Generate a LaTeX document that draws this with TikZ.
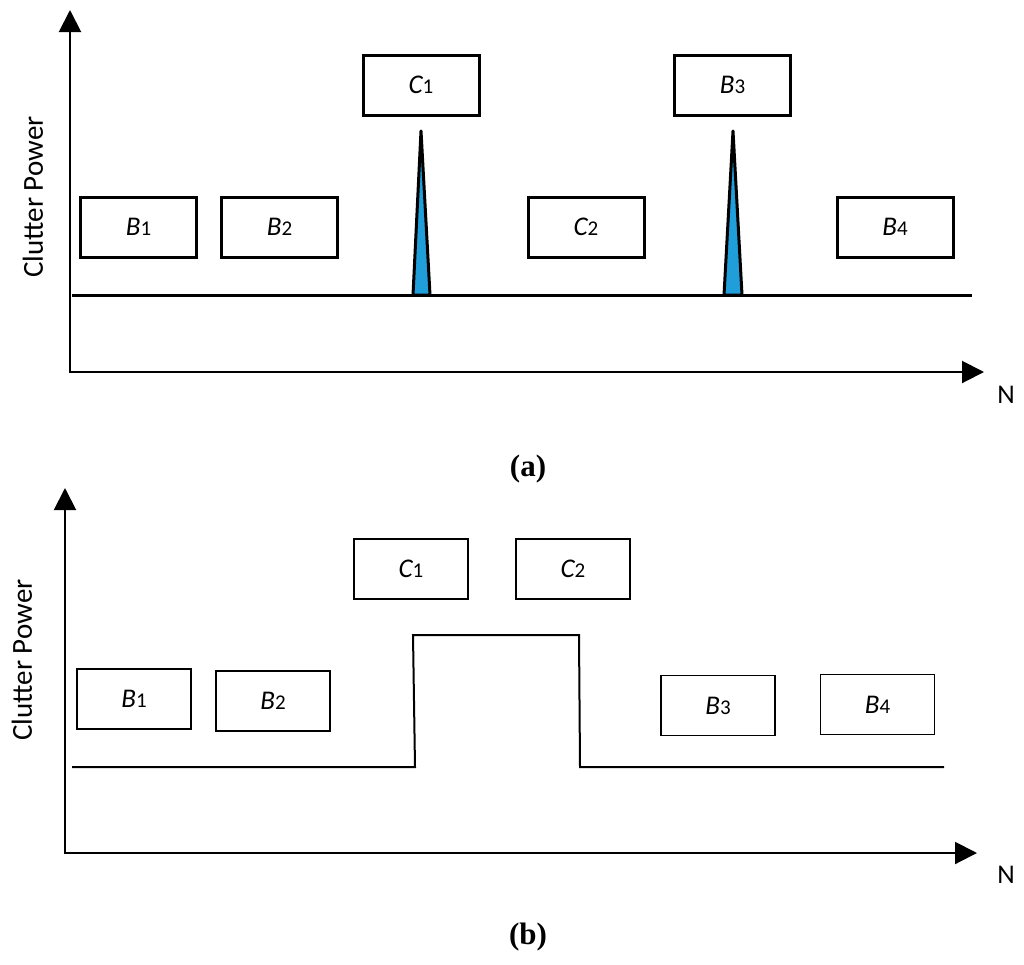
\documentclass[tikz,border=0pt]{standalone}
\usepackage{fontspec}
\setmainfont{Carlito}
\newfontfamily\capfont{Liberation Serif}
\usetikzlibrary{arrows.meta}
\definecolor{spike}{RGB}{31,158,217}
\tikzset{
  axis/.style={line width=2pt, line join=miter, {Triangle[length=22pt,width=22pt]}-{Triangle[length=22pt,width=22pt]}},
  boxa/.style={draw, line width=3pt, minimum width=116pt, minimum height=60pt, inner sep=0pt},
  boxb/.style={draw, line width=1.8pt, minimum width=114pt, minimum height=60pt, inner sep=0pt},
  axlabel/.style={font=\fontsize{29}{29}\selectfont},
  nlabel/.style={font=\fontsize{27}{27}\selectfont},
  caption/.style={font=\capfont\bfseries\fontsize{31}{31}\selectfont},
}
\newcommand{\lbl}[2]{{\fontsize{27}{27}\selectfont\itshape #1}{\fontsize{21}{21}\selectfont #2}}
\begin{document}
\begin{tikzpicture}[x=1pt,y=-1pt]
\useasboundingbox (0,0) rectangle (1024,964);
% ---------- (a) ----------
\coordinate (ya) at (70,10);
\coordinate (oa) at (70,372);
\coordinate (xa) at (984,372);
\draw[axis] (ya) -- (oa) -- (xa);
\node[axlabel, rotate=90] (cpa) at (33,197) {Clutter Power};
\node[nlabel] (na) at (1006,395) {N};
\coordinate (bla) at (72,295);
\coordinate (bra) at (972,295);
\draw[line width=3pt] (bla) -- (bra);
\coordinate (s1l) at (413,295);
\coordinate (s1t) at (421,131);
\coordinate (s1r) at (430,295);
\coordinate (s2l) at (724,295);
\coordinate (s2t) at (733,131);
\coordinate (s2r) at (742,295);
\filldraw[fill=spike, line width=3pt, line join=round] (s1l) -- (s1t) -- (s1r) -- cycle;
\filldraw[fill=spike, line width=3pt, line join=round] (s2l) -- (s2t) -- (s2r) -- cycle;
\node[boxa] (aB1) at (138.5,227) {\lbl{B}{1}};
\node[boxa] (aB2) at (279.5,227) {\lbl{B}{2}};
\node[boxa] (aC1) at (421,85) {\lbl{C}{1}};
\node[boxa] (aC2) at (586,227) {\lbl{C}{2}};
\node[boxa] (aB3) at (732.5,85) {\lbl{B}{3}};
\node[boxa] (aB4) at (895,227) {\lbl{B}{4}};
\node[caption] (capa) at (528,469) {(a)};
% ---------- (b) ----------
\coordinate (yb) at (65,488);
\coordinate (ob) at (65,853);
\coordinate (xb) at (977,853);
\draw[axis] (yb) -- (ob) -- (xb);
\node[axlabel, rotate=90] (cpb) at (22,660) {Clutter Power};
\node[nlabel] (nb) at (1006,875) {N};
\coordinate (p1) at (72,767);
\coordinate (p2) at (415,767);
\coordinate (p3) at (413,635);
\coordinate (p4) at (579,635);
\coordinate (p5) at (580,767);
\coordinate (p6) at (944,767);
\draw[line width=2pt] (p1) -- (p2) -- (p3) -- (p4) -- (p5) -- (p6);
\node[boxb] (bB1) at (134,699) {\lbl{B}{1}};
\node[boxb] (bB2) at (273,701) {\lbl{B}{2}};
\node[boxb] (bC1) at (411,569) {\lbl{C}{1}};
\node[boxb] (bC2) at (573,569) {\lbl{C}{2}};
\node[boxb] (bB3) at (718,705.5) {\lbl{B}{3}};
\node[boxb] (bB4) at (877.5,704.5) {\lbl{B}{4}};
\node[caption] (capb) at (528,937) {(b)};
\end{tikzpicture}
\end{document}
